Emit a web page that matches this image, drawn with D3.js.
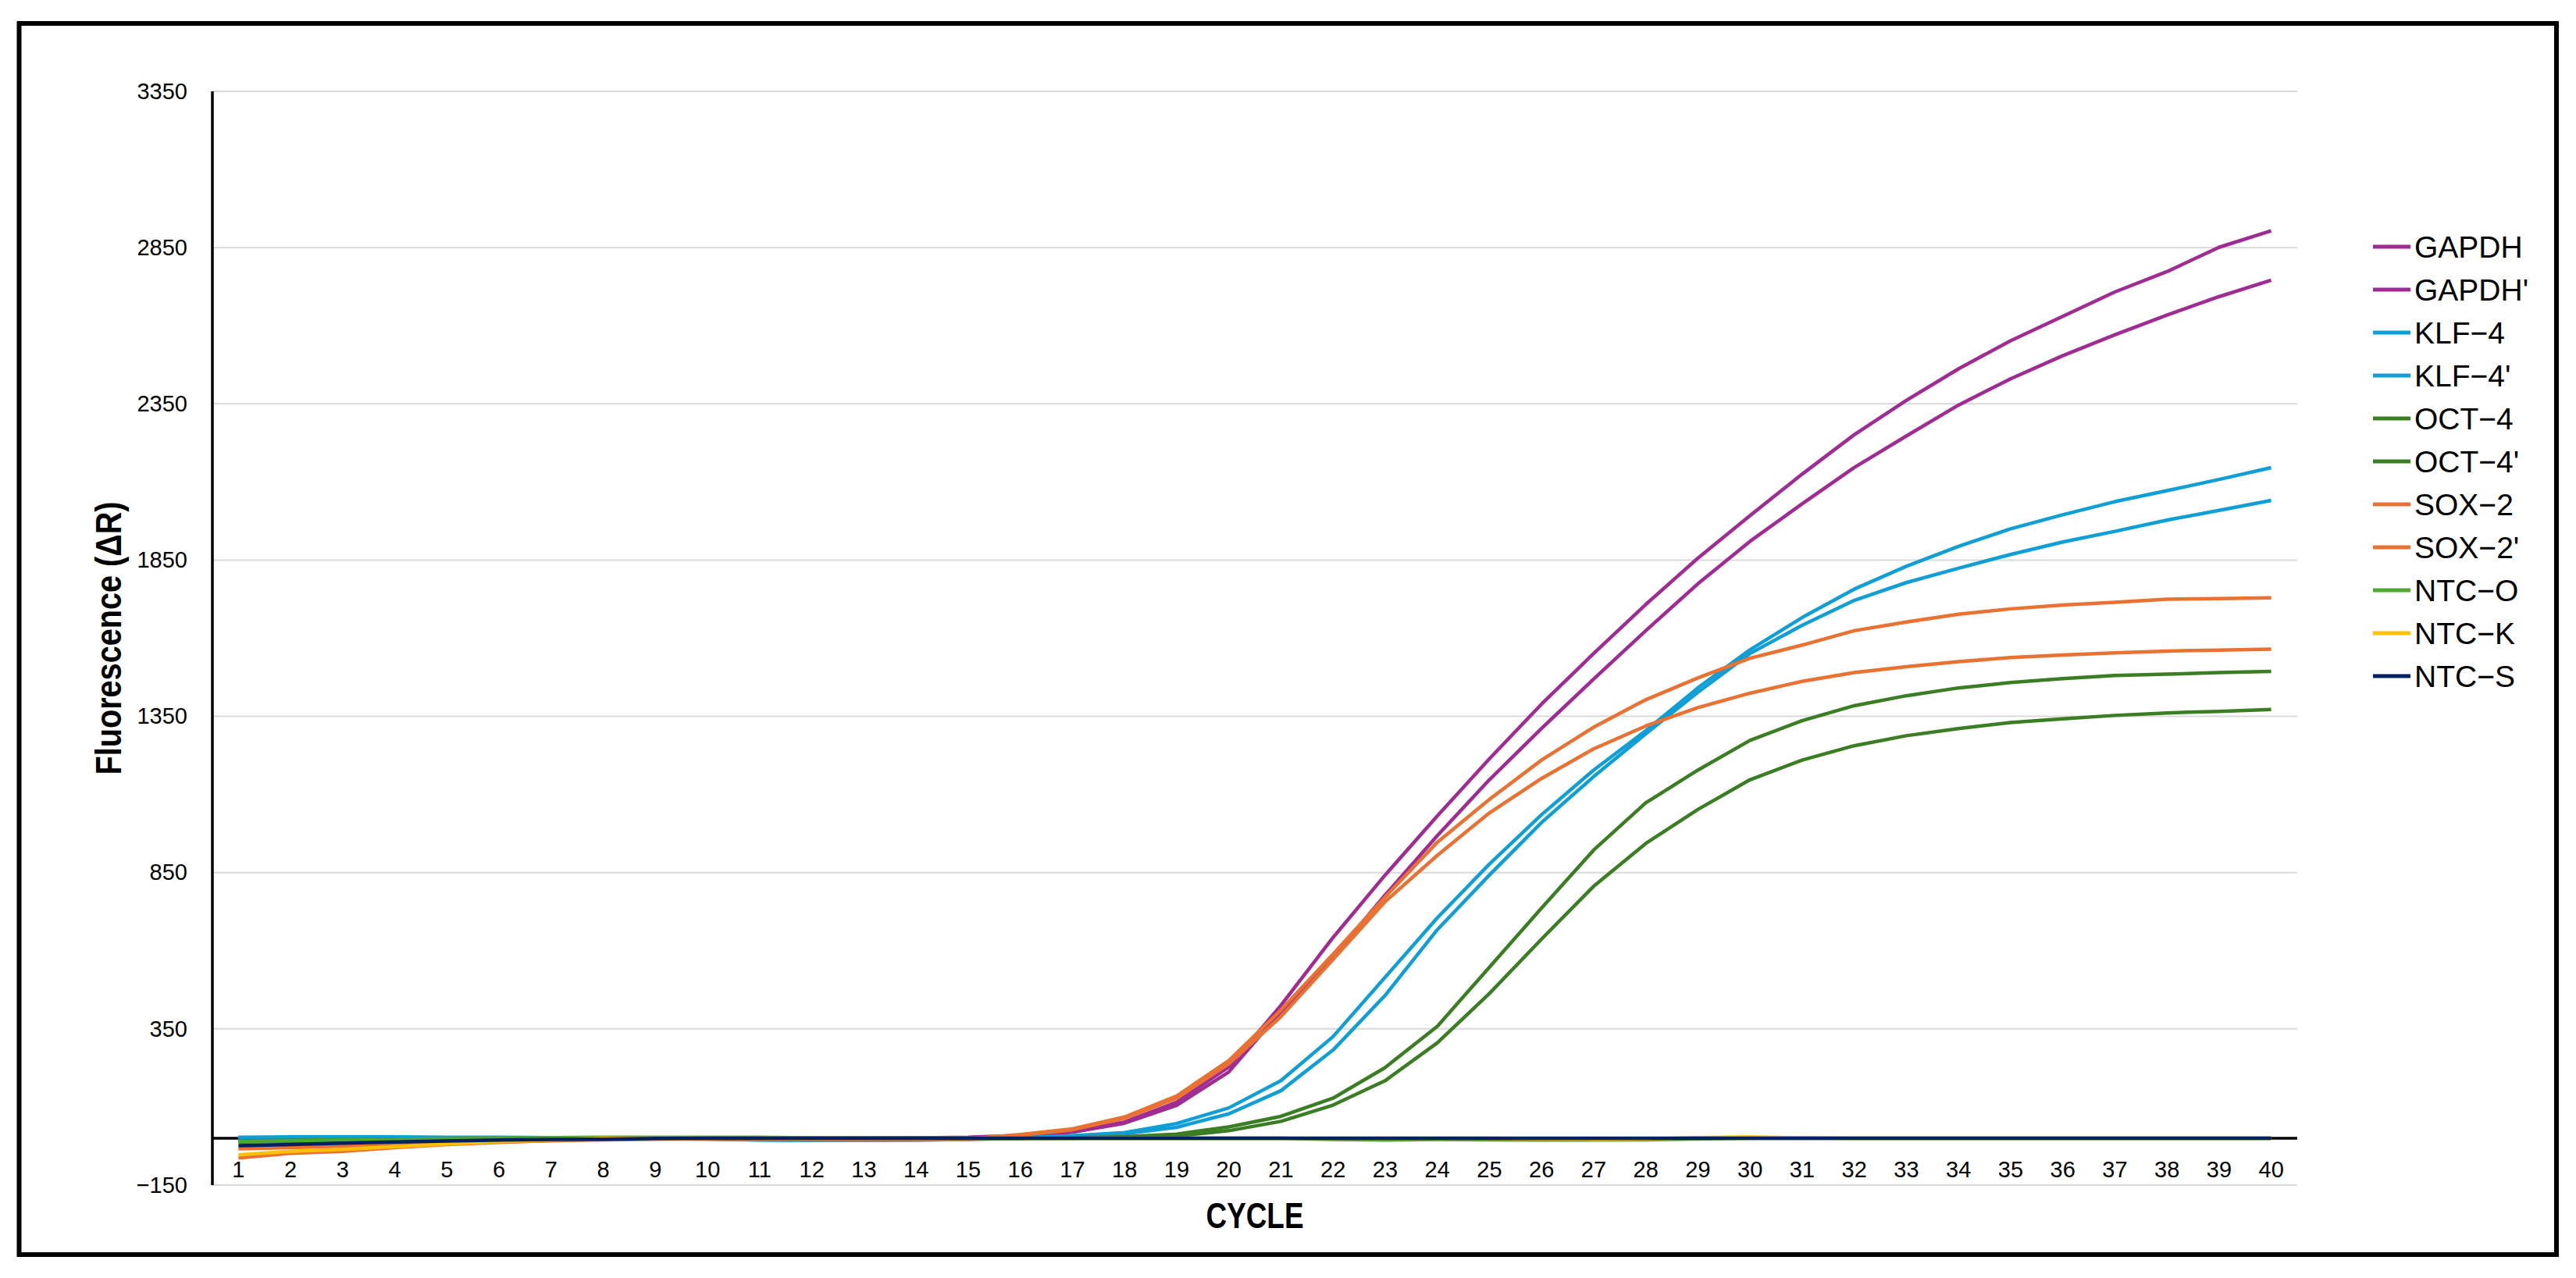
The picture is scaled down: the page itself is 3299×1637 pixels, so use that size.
<!DOCTYPE html>
<html>
<head>
<meta charset="utf-8">
<script src="https://cdn.jsdelivr.net/npm/d3@7"></script>
<style>
  html, body { margin: 0; padding: 0; background: #fff; }
  svg { display: block; }
  text { font-family: "Liberation Sans", Arial, sans-serif; fill: #000; }
</style>
</head>
<body>
<svg id="chart" width="3299" height="1637"></svg>
<script>
// ---------------- data ----------------
const cycles = d3.range(1, 41);
const yTicks = [-150, 350, 850, 1350, 1850, 2350, 2850, 3350];

const seriesNames = ["GAPDH", "GAPDH'", "KLF\u22124", "KLF\u22124'", "OCT\u22124", "OCT\u22124'", "SOX\u22122", "SOX\u22122'", "NTC\u2212O", "NTC\u2212K", "NTC\u2212S"];
const seriesColors = ["#A02B93", "#A02B93", "#0F9ED5", "#0F9ED5", "#3B7D23", "#3B7D23", "#E97132", "#E97132", "#4EA72E", "#FFC000", "#002060"];

const gapdh = [-3,-3,-2,-2,-1,-1,0,0,0,0,0,0,1,1,3,
  9,22,52,115,228,
  425,642,842,1031,1214,1389,1551,1708,1856,1992,
  2125,2251,2361,2462,2552,2630,2708,2773,2851,2904];
const gapdh2 = [-4,-4,-3,-2,-2,-1,-1,0,0,0,0,0,0,1,2,
  7,19,48,105,212,
  405,579,778,968,1147,1311,1469,1624,1774,1910,
  2030,2146,2247,2346,2430,2504,2571,2634,2693,2746];
const klf4 = [3,4,4,4,3,3,2,1,0,-2,-5,-6,-6,-5,-3,
  2,8,18,47,97,
  184,325,515,705,877,1035,1178,1304,1441,1563,
  1666,1757,1830,1894,1950,1995,2037,2072,2108,2146];
const klf42 = [1,2,2,2,2,2,1,0,-1,-3,-6,-7,-7,-6,-4,
  0,5,14,35,78,
  152,282,457,667,842,1010,1157,1294,1427,1551,
  1641,1721,1778,1824,1868,1908,1942,1978,2009,2041];
const oct4 = [-8,-7,-5,-4,-3,-1,0,1,1,1,1,0,0,0,0,
  0,2,5,13,36,
  70,128,226,358,547,736,922,1073,1178,1273,
  1336,1384,1416,1441,1458,1471,1481,1485,1490,1494];
const oct42 = [-12,-10,-8,-6,-4,-2,-1,0,0,0,0,0,-1,-1,-1,
  -1,0,2,7,24,
  54,106,184,305,463,637,806,943,1052,1147,
  1210,1256,1288,1311,1330,1342,1353,1361,1366,1372];
const sox2 = [-63,-48,-42,-30,-20,-13,-7,-4,-2,-1,-2,-5,-6,-6,-3,
  12,30,68,135,248,
  410,589,772,947,1084,1210,1315,1403,1473,1536,
  1578,1624,1652,1677,1694,1706,1715,1725,1727,1729];
const sox22 = [-34,-30,-26,-22,-17,-12,-8,-5,-3,-2,-3,-4,-5,-4,-2,
  10,27,64,128,238,
  389,572,757,905,1041,1151,1246,1319,1378,1424,
  1462,1490,1509,1525,1538,1546,1553,1559,1562,1565];
const ntcO = [-10,-8,-6,-4,-2,0,2,3,3,3,3,1,0,0,0,
  0,0,0,0,0,
  0,-4,-6,-4,-5,-6,-6,-5,-2,0,
  0,0,0,0,0,0,0,0,0,0];
const ntcK = [-53,-42,-36,-27,-18,-11,-5,-1,0,0,0,0,0,0,0,
  0,0,0,0,0,
  0,0,0,0,0,-2,-3,-2,2,4,
  1,0,0,0,0,0,0,0,0,0];
const ntcS = [-24,-20,-16,-12,-9,-6,-4,-3,-1,0,0,0,0,0,0,
  0,0,0,0,0,
  0,0,0,0,0,0,0,0,0,0,
  0,0,0,0,0,0,0,0,0,0];

const seriesValues = [gapdh, gapdh2, klf4, klf42, oct4, oct42, sox2, sox22, ntcO, ntcK, ntcS];

// ---------------- layout ----------------
const svg = d3.select("#chart");
const plot = { left: 272, right: 2942, top: 117, bottom: 1518 };

// outer frame
svg.append("rect")
  .attr("x", 24.5).attr("y", 30)
  .attr("width", 3249.5).attr("height", 1577)
  .attr("fill", "none").attr("stroke", "#000").attr("stroke-width", 6);

const x = d3.scaleBand().domain(cycles).range([plot.left, plot.right]).padding(0);
const y = d3.scaleLinear().domain([-150, 3350]).range([plot.bottom, plot.top]);
const xc = c => x(c) + x.bandwidth() / 2;

// gridlines
svg.append("g").selectAll("line").data(yTicks).join("line")
  .attr("x1", plot.left).attr("x2", plot.right)
  .attr("y1", d => y(d)).attr("y2", d => y(d))
  .attr("stroke", "#d9d9d9").attr("stroke-width", 2);

// y axis
const yAxis = d3.axisLeft(y).tickValues(yTicks).tickFormat(d3.format("d")).tickSize(0).tickPadding(0);
const gy = svg.append("g").attr("transform", `translate(240,0)`).call(yAxis);
gy.select(".domain").remove();
gy.selectAll("text").attr("font-size", 29).attr("font-family", "Liberation Sans, Arial, sans-serif").attr("fill", "#000");

svg.append("line")
  .attr("x1", plot.left).attr("x2", plot.left)
  .attr("y1", plot.top).attr("y2", plot.bottom)
  .attr("stroke", "#000").attr("stroke-width", 3.5);

// zero line (x axis)
svg.append("line")
  .attr("x1", plot.left).attr("x2", plot.right)
  .attr("y1", y(0)).attr("y2", y(0))
  .attr("stroke", "#000").attr("stroke-width", 3.5);

// x tick labels
const xAxis = d3.axisBottom(x).tickSize(0).tickPadding(0);
const gx = svg.append("g").attr("transform", `translate(0,${1498})`).call(xAxis);
gx.select(".domain").remove();
gx.selectAll("text").attr("font-size", 29).attr("dy", "0.35em")
  .attr("font-family", "Liberation Sans, Arial, sans-serif").attr("fill", "#000");

// lines
const line = d3.line().x((d, i) => xc(cycles[i])).y(d => y(d)).curve(d3.curveLinear);
svg.append("g").selectAll("path").data(seriesValues).join("path")
  .attr("d", d => line(d))
  .attr("fill", "none")
  .attr("stroke", (d, i) => seriesColors[i])
  .attr("stroke-width", 4.5)
  .attr("stroke-linejoin", "round");

// axis titles
svg.append("text")
  .attr("x", (plot.left + plot.right) / 2).attr("y", 1573)
  .attr("text-anchor", "middle")
  .attr("font-size", 46).attr("font-weight", "bold")
  .attr("textLength", 125).attr("lengthAdjust", "spacingAndGlyphs")
  .text("CYCLE");

svg.append("text")
  .attr("transform", `translate(155,${(plot.top + plot.bottom) / 2}) rotate(-90)`)
  .attr("text-anchor", "middle")
  .attr("font-size", 46).attr("font-weight", "bold")
  .attr("textLength", 350).attr("lengthAdjust", "spacingAndGlyphs")
  .text("Fluorescence (\u0394R)");

// legend
const legend = svg.append("g");
const legY = i => 316 + i * 55;
legend.selectAll("line").data(seriesNames).join("line")
  .attr("x1", 3039).attr("x2", 3087)
  .attr("y1", (d, i) => legY(i)).attr("y2", (d, i) => legY(i))
  .attr("stroke", (d, i) => seriesColors[i]).attr("stroke-width", 5);
legend.selectAll("text").data(seriesNames).join("text")
  .attr("x", 3092).attr("y", (d, i) => legY(i))
  .attr("dy", "0.36em")
  .attr("font-size", 39)
  .text(d => d);
</script>
</body>
</html>
